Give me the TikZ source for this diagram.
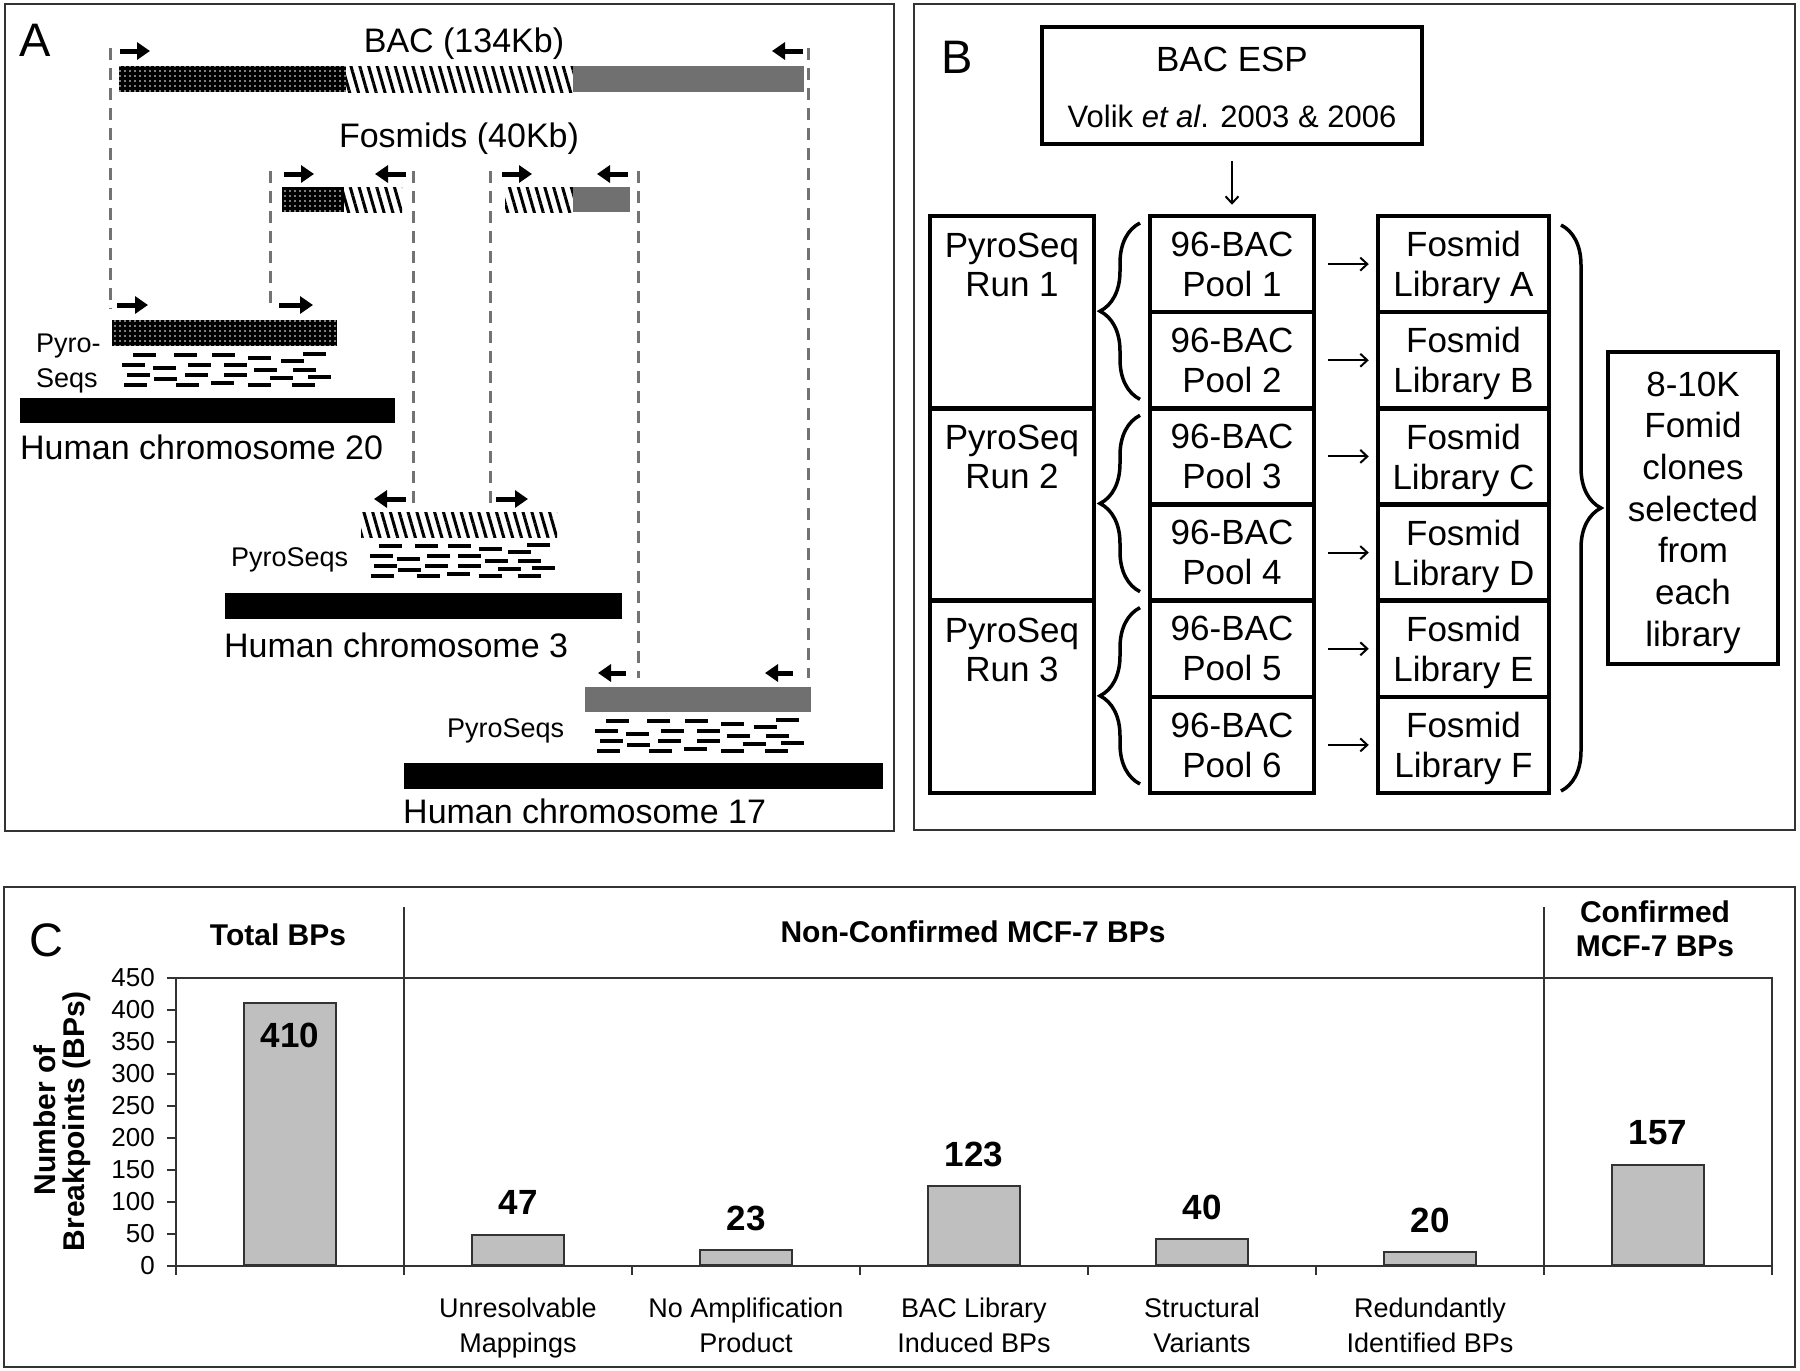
\documentclass[tikz,border=0pt]{standalone}
\usepackage{fontspec}
\setmainfont{Liberation Sans}
\usetikzlibrary{arrows.meta,patterns.meta,decorations.pathreplacing}
\newcommand\fsz[2]{\fontsize{#1}{#2}\selectfont}
\newcommand\readset[3]{%
  \foreach \dx/\dy in {21/9,62/9,100/9,136/12,169/15,191/8,
                       10/19,41/22,76/19,112/19,142/24,181/24,
                       15/29,42/33,73/29,112/29,158/32,196/31,
                       12/39,64/39,99/37,136/39,180/39}
    {\draw[seqread] ({#1+#3*\dx},{#2+\dy}) -- ++(23,0);}%
}
\begin{document}
\begin{tikzpicture}[x=1pt,y=-1pt,
  panel/.style={draw=black!80,line width=2.5pt},
  letter/.style={inner sep=0pt,font=\fsz{47}{50}},
  txtA/.style={inner sep=0pt,font=\fsz{34}{38}},
  pyro/.style={inner sep=0pt,font=\fsz{27}{34}},
  guide/.style={draw=black!55,line width=3pt,dash pattern=on 12pt off 8pt},
  fat/.style={line width=5pt,-{Triangle[length=13pt,width=17pt]}},
  seqread/.style={line width=4pt},
  dotfill/.style={pattern={Dots[distance=5pt,radius=0.9pt]},pattern color=white},
  hatchfill/.style={pattern={Lines[angle=-74,distance=8.5pt,line width=3pt]},pattern color=black},
  grayfill/.style={fill=black!56},
  cell/.style={draw,line width=4.5pt,minimum width=164pt,minimum height=96.17pt,inner sep=0pt,
               align=center,font=\fsz{35}{40},text depth=0pt},
  fcell/.style={cell,minimum width=171pt},
  runbox/.style={draw,line width=4.5pt,minimum width=164pt,minimum height=192.33pt,inner sep=0pt},
  celltxt/.style={inner sep=0pt,align=center,font=\fsz{35}{39}},
  thinarr/.style={line width=2pt,-{Straight Barb[length=7pt,width=13pt]}},
  curly/.style={line width=3.5pt,decorate,decoration={brace,amplitude=40pt}},
  axisline/.style={draw=black!80,line width=1.8pt},
  barbox/.style={draw=black!80,line width=2pt,fill=black!25,minimum width=92pt,inner sep=0pt,anchor=south},
  ticklab/.style={inner sep=0pt,font=\fsz{26}{30}},
  catlab/.style={inner sep=0pt,align=center,font=\fsz{27}{35},text depth=0pt},
  vallab/.style={inner sep=0pt,font=\bfseries\fsz{35}{40}},
  headlab/.style={inner sep=0pt,font=\bfseries\fsz{30}{34}},
  ylab/.style={inner sep=0pt,font=\bfseries\fsz{30}{34},rotate=90}
]
\useasboundingbox (0,0) rectangle (1800,1371);
\fill[white] (0,0) rectangle (1800,1371);

% ---------- frames ----------
\draw[panel] (5,4) rectangle (894,831);
\draw[panel] (914,4) rectangle (1795,830);
\draw[panel] (4,887) rectangle (1795,1367);

\node[letter] (labA) at (35,40) {A};
\node[letter] (labB) at (957,57) {B};
\node[letter] (labC) at (46,940) {C};

% ================= PANEL A =================
% guides
\draw[guide] (110,48) -- (110,309);
\draw[guide] (808,48) -- (808,678);
\draw[guide] (270,171) -- (270,309);
\draw[guide] (413,171) -- (413,503);
\draw[guide] (490,171) -- (490,503);
\draw[guide] (638,171) -- (638,678);

% BAC
\node[txtA,anchor=base] (bactxt) at (464,52) {BAC (134Kb)};
\fill[black] (119,66) rectangle (346,92);
\fill[dotfill] (119,66) rectangle (346,92);
\fill[white] (346,66) rectangle (573,92);
\fill[hatchfill] (346,66) rectangle (573,92);
\fill[grayfill] (573,66) rectangle (804,92);
\draw[fat] (120,51) -- (150,51);
\draw[fat] (803,51) -- (772,51);

% Fosmids
\node[txtA,anchor=base] (fostxt) at (459,147) {Fosmids (40Kb)};
\fill[black] (282,187) rectangle (344,212);
\fill[dotfill] (282,187) rectangle (344,212);
\fill[white] (344,187) rectangle (402,212);
\fill[hatchfill] (344,187) rectangle (402,212);
\draw[fat] (284,174) -- (314,174);
\draw[fat] (406,174) -- (375,174);
\fill[white] (505,187) rectangle (573,212);
\fill[hatchfill] (505,187) rectangle (573,212);
\fill[grayfill] (573,187) rectangle (630,212);
\draw[fat] (502,174) -- (532,174);
\draw[fat] (628,174) -- (597,174);

% chromosome 20
\draw[fat] (117,305) -- (148,305);
\draw[fat] (279,305) -- (313,305);
\fill[black] (112,320) rectangle (337,346);
\fill[dotfill] (112,320) rectangle (337,346);
\readset{112}{346}{1}
\node[pyro,anchor=base west] (pyro20a) at (36,352) {Pyro-};
\node[pyro,anchor=base west] (pyro20b) at (36,387) {Seqs};
\fill[black] (20,398) rectangle (395,423);
\node[txtA,anchor=base west] (chr20) at (20,459) {Human chromosome 20};

% chromosome 3
\draw[fat] (406,499) -- (374,499);
\draw[fat] (496,499) -- (528,499);
\fill[white] (361,512) rectangle (557,537);
\fill[hatchfill] (361,512) rectangle (557,537);
\readset{361}{537}{0.87}
\node[pyro,anchor=base west] (pyro3) at (231,566) {PyroSeqs};
\fill[black] (225,593) rectangle (622,619);
\node[txtA,anchor=base west] (chr3) at (224,657) {Human chromosome 3};

% chromosome 17
\draw[fat] (626,673) -- (598,673);
\draw[fat] (793,673) -- (765,673);
\fill[grayfill] (585,687) rectangle (811,712);
\readset{585}{712}{1}
\node[pyro,anchor=base west] (pyro17) at (447,737) {PyroSeqs};
\fill[black] (404,763) rectangle (883,789);
\node[txtA,anchor=base west] (chr17) at (403,823) {Human chromosome 17};

% ================= PANEL B =================
\node[draw,line width=4pt,minimum width=380pt,minimum height=117pt,inner sep=0pt] (bacesp) at (1232,85.5) {};
\node[inner sep=0pt,anchor=base,font=\fsz{35}{40}] (bacesptxt) at (1232,71) {BAC ESP};
\node[inner sep=0pt,anchor=base,font=\fsz{31}{36}] (volik) at (1232,127) {Volik \textit{et al}. 2003 \& 2006};

\foreach \i in {1,...,3} {
  \node[runbox] (run\i) at (1012,{216+192.33*(\i-0.5)}) {};
  \node[celltxt,anchor=north] (runt\i) at ([yshift=-19pt]run\i.north) {PyroSeq\\Run \i};
  \draw[curly] (1140,{216+192.33*\i-9}) -- (1140,{216+192.33*(\i-1)+7});
}
\foreach \i/\L in {1/A,2/B,3/C,4/D,5/E,6/F} {
  \node[cell] (pool\i) at (1232,{216+96.17*(\i-0.5)}) {96-BAC\\Pool \i};
  \node[fcell] (fos\i) at (1463.5,{216+96.17*(\i-0.5)}) {Fosmid\\Library \L};
  \draw[thinarr,shorten <=12pt,shorten >=7pt] (pool\i) -- (fos\i);
}
\draw[thinarr,shorten <=15pt,shorten >=9pt] (bacesp) -- (pool1);
\draw[curly] (1561,225) -- (1561,791);
\node[draw,line width=4.5pt,minimum width=170pt,minimum height=312pt,inner sep=0pt] (sel) at (1693,508) {};
\node[inner sep=0pt,align=center,font=\fsz{35}{41.7},text depth=0pt] (seltxt) at (1693,509) {8-10K\\Fomid\\clones\\selected\\from\\each\\library};

% ================= PANEL C =================
\node[headlab,anchor=base] (hTotal) at (278,945) {Total BPs};
\node[headlab,anchor=base] (hNon) at (973,942) {Non-Confirmed MCF-7 BPs};
\node[headlab,anchor=base] (hConf1) at (1655,922) {Confirmed};
\node[headlab,anchor=base] (hConf2) at (1655,956) {MCF-7 BPs};

\draw[axisline] (404,907) -- (404,1275);
\draw[axisline] (1544,907) -- (1544,1275);
\draw[axisline] (167,978) -- (1772,978) -- (1772,1275);
\draw[axisline] (176,978) -- (176,1275);
\draw[axisline] (176,1266) -- (1772,1266);
\foreach \i in {2,...,5} \draw[axisline] ({176+228*\i},1266) -- ++(0,9);
\foreach \v in {0,50,...,450} {
  \draw[axisline] (167,{1266-0.64*\v}) -- (176,{1266-0.64*\v});
  \node[ticklab,anchor=east] (tick\v) at (155,{1266-0.64*\v}) {\v};
}
\node[ylab] (ylab1) at (45,1120) {Number of};
\node[ylab] (ylab2) at (77,1121) {Breakpoints (BPs)};

\foreach \i/\v in {0/410,1/47,2/23,3/123,4/40,5/20,6/157}
  \node[barbox,minimum height={0.64*\v}] (bar\i) at ({290+228*\i},1266) {};
\node[vallab] (val0) at ([yshift=-34pt]bar0.north) {410};
\foreach \i/\v in {1/47,2/23,3/123,4/40,5/20,6/157}
  \node[vallab] (val\i) at ([yshift=31pt]bar\i.north) {\v};

\foreach \i/\a/\b in {1/Unresolvable/Mappings,2/No Amplification/Product,3/BAC Library/Induced BPs,4/Structural/Variants,5/Redundantly/Identified BPs}
  \node[catlab] (cat\i) at ({290+228*\i},1325) {\a\\\b};
\end{tikzpicture}
\end{document}
